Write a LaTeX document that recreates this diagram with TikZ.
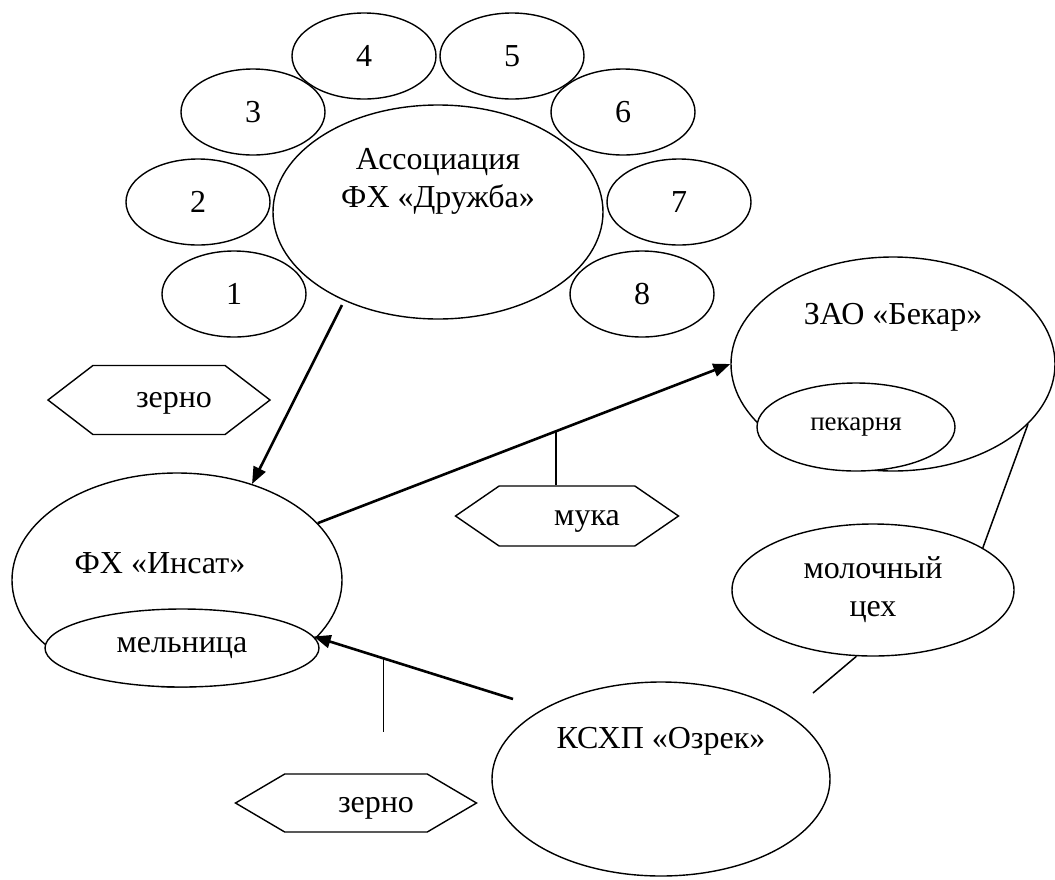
\documentclass[tikz,border=0pt]{standalone}
\usepackage{fontspec}
\setmainfont{Liberation Serif}
\usetikzlibrary{shapes.geometric,shapes.symbols,arrows.meta}

\tikzset{
  sat/.style={ellipse, draw, line width=1.4pt, minimum width=144pt, minimum height=86pt, inner sep=0pt},
  firm/.style={ellipse, draw, line width=1.4pt, fill=white, inner sep=0pt},
  goods/.style={signal, signal to=west and east, draw, line width=1.4pt, inner sep=0pt},
  flow/.style={-{Triangle[length=17pt,width=13pt]}, line width=2.6pt},
  link/.style={line width=1.5pt},
}

\begin{document}
\begin{tikzpicture}[x=1pt, y=-1pt, font=\fontsize{32}{38}\selectfont]
	\useasboundingbox (0,0) rectangle (1055,879);
	% association and its farms
	\node[firm, minimum width=330pt, minimum height=214pt, label={[yshift=31pt, align=center]center:Ассоциация\\ФХ «Дружба»}] (druzhba) at (438,212) {};
	\foreach \n/\x/\y in {1/234/294, 2/198/202, 3/253/112, 4/364/56, 5/512/56, 6/623/112, 7/679/202, 8/642/294}
		\node[sat] (farm\n) at (\x,\y) {\n};
	% firms
	\node[firm, minimum width=330pt, minimum height=214pt, label={[xshift=-17pt, yshift=17pt]center:ФХ «Инсат»}] (insat) at (177,580) {};
	\node[firm, minimum width=274pt, minimum height=78pt] (melnica) at (182,648) {мельница};
	\node[firm, minimum width=324pt, minimum height=214pt, label={[yshift=47pt]center:ЗАО «Бекар»}] (bekar) at (893,364) {};
	\node[firm, minimum width=198pt, minimum height=88pt, font=\fontsize{27}{30}\selectfont] (pekarnya) at (856,427) {пекарня};
	\node[firm, minimum width=282pt, minimum height=132pt, align=center] (moloch) at (873,590) {молочный\\цех};
	\node[firm, minimum width=338pt, minimum height=194pt, label={[yshift=38pt]center:КСХП «Озрек»}] (ozrek) at (661,779) {};
	% goods
	\node[goods, signal pointer angle=75, minimum width=222pt, minimum height=69pt, label={[xshift=15pt, yshift=-3pt]center:зерно}] (grainA) at (159,400) {};
	\node[goods, signal pointer angle=69, minimum width=223pt, minimum height=60pt, label={[xshift=20pt, yshift=-5pt]center:мука}] (flour) at (567,516) {};
	\node[goods, signal pointer angle=61, minimum width=241pt, minimum height=58pt, label={[xshift=20pt, yshift=-5pt]center:зерно}] (grainB) at (356,803) {};
	% flows
	\coordinate (druzhbaEnd) at (342,305);
	\coordinate (ozrekEnd) at (513,699);
	\coordinate (grainEnd) at (383,732);
	\coordinate (ozrekTap) at (813,693);
	\draw[flow] (druzhbaEnd) -- (insat.52);
	\draw[flow] (insat.22) -- coordinate[pos=0.578] (flourTap) (bekar.west);
	\draw[link] (flourTap) -- (flourTap |- flour.north);
	\draw[flow] (ozrekEnd) -- coordinate[pos=0.65] (grainTap) (melnica.5);
	\draw[link] (grainTap) -- (grainTap |- grainEnd);
	\draw[link] (bekar.-24) -- (moloch.21);
	\draw[link] (moloch.256) -- (ozrekTap);
	%\draw[link] (grainB.north) -- (grainEnd);
\end{tikzpicture}
\end{document}
